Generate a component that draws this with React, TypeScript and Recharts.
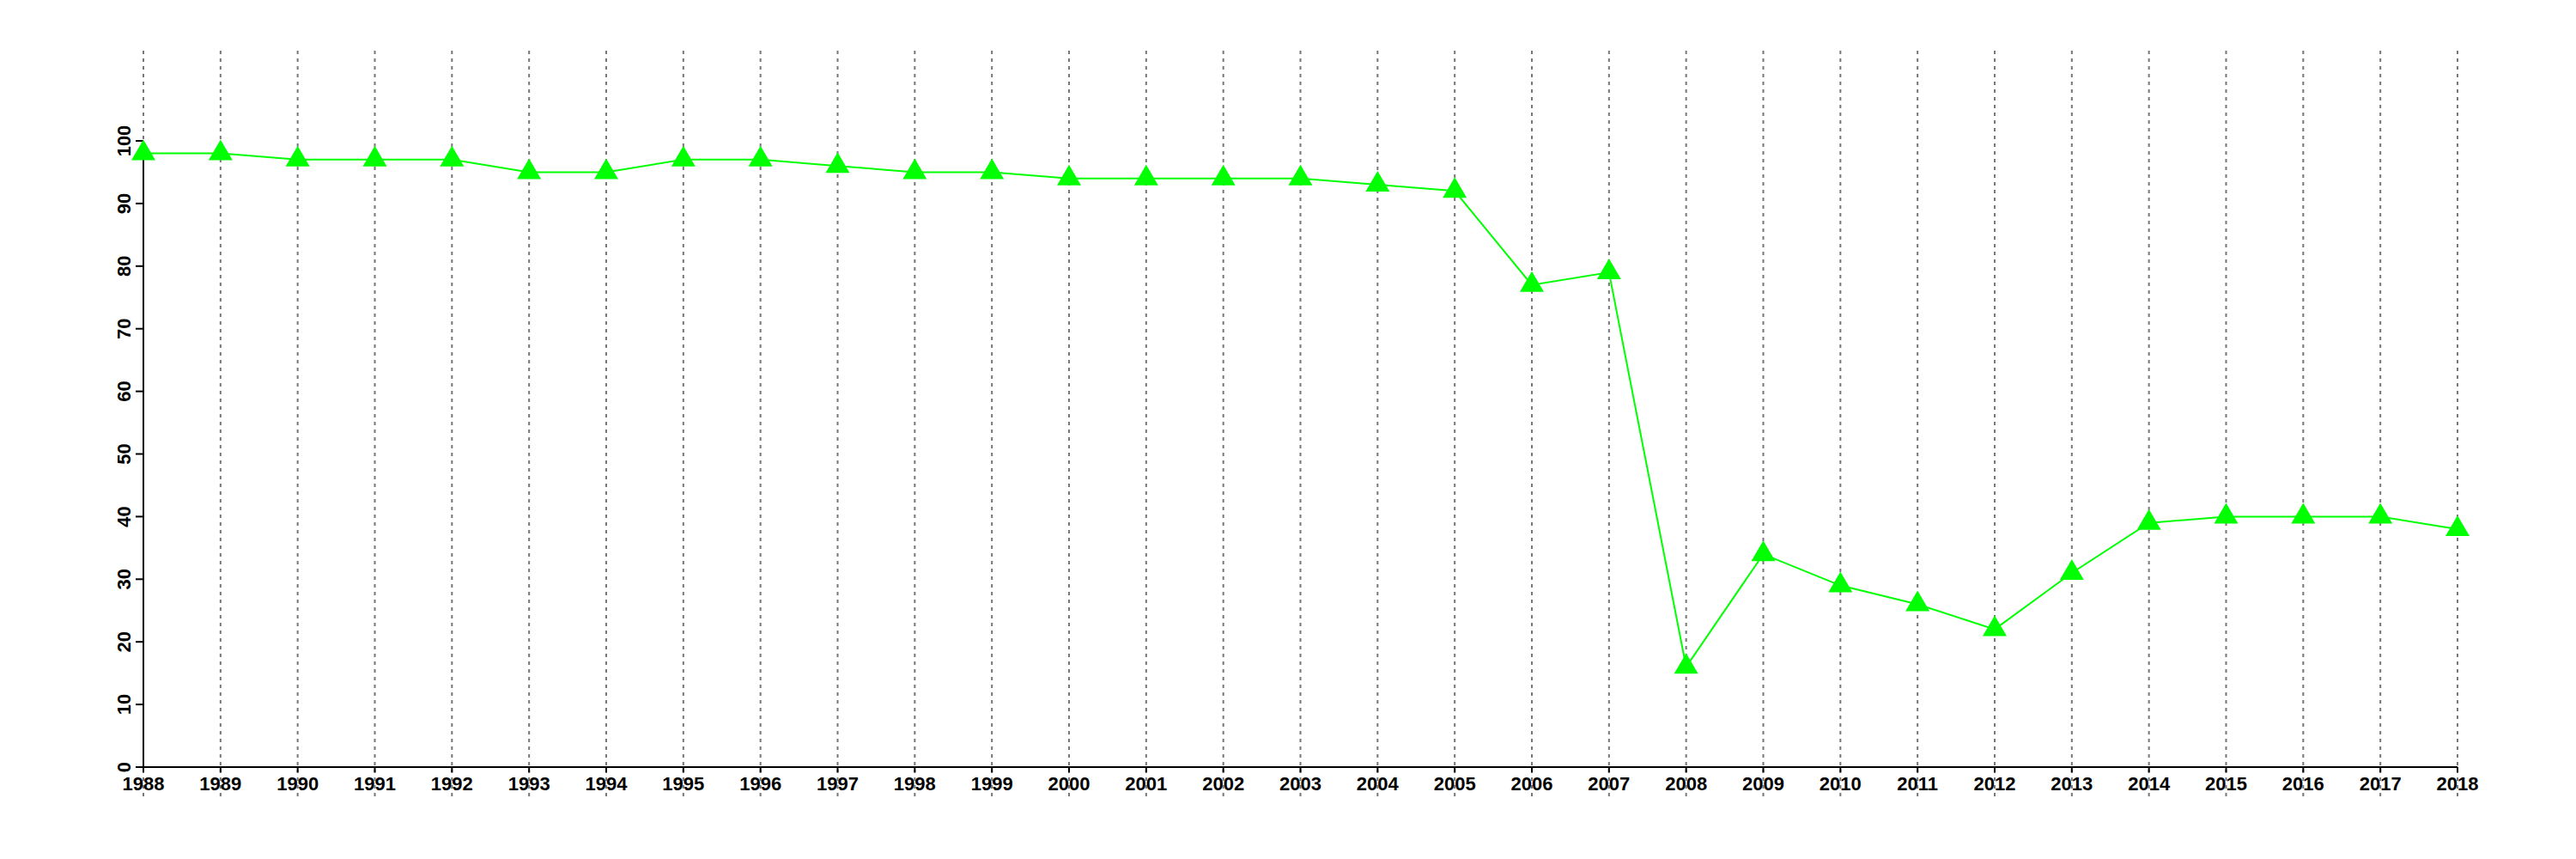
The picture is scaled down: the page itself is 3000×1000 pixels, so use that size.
import React from "react";
import { LineChart, Line, XAxis, YAxis, ReferenceLine } from "recharts";

const years = [1988, 1989, 1990, 1991, 1992, 1993, 1994, 1995, 1996, 1997, 1998, 1999, 2000, 2001, 2002, 2003, 2004, 2005, 2006, 2007, 2008, 2009, 2010, 2011, 2012, 2013, 2014, 2015, 2016, 2017, 2018];
const values = [98, 98, 97, 97, 97, 95, 95, 97, 97, 96, 95, 95, 94, 94, 94, 94, 93, 92, 77, 79, 16, 34, 29, 26, 22, 31, 39, 40, 40, 40, 38];
const yTicks = [0, 10, 20, 30, 40, 50, 60, 70, 80, 90, 100];
const gridTop = 114.4;
const gridBottom = -4.7;

const data = years.map((year, i) => ({ year, value: values[i] }));

const FONT = "'Liberation Sans', Arial, Helvetica, sans-serif";

const Triangle = (props: any) => {
  const { cx, cy } = props;
  if (cx == null || cy == null) return null;
  return (
    <polygon
      points={`${cx},${cy - 16} ${cx - 14},${cy + 8} ${cx + 14},${cy + 8}`}
      fill="#00ff00"
      stroke="none"
    />
  );
};

const XTick = (props: any) => {
  const { x, y, payload } = props;
  return (
    <text x={x} y={y + 21} textAnchor="middle" fontFamily={FONT} fontWeight="bold" fontSize={22} fill="#000">
      {payload.value}
    </text>
  );
};

const YTick = (props: any) => {
  const { x, y, payload } = props;
  return (
    <g transform={`translate(${x - 6},${y})`}>
      <text transform="rotate(-90)" x={0} y={0} textAnchor="middle" fontFamily={FONT} fontWeight="bold" fontSize={22} fill="#000">
        {payload.value}
      </text>
    </g>
  );
};

export default function App() {
  return (
    <div style={{ width: 2984, height: 984, background: "#fff" }}>
      <LineChart width={2984} height={984} data={data} margin={{ top: 156, right: 130, bottom: 39, left: 0 }}>
        <XAxis
          dataKey="year"
          type="number"
          domain={[1988, 2018]}
          ticks={years}
          interval={0}
          height={60}
          tickSize={6}
          tickMargin={0}
          axisLine={{ stroke: "#000", strokeWidth: 2 }}
          tickLine={{ stroke: "#000", strokeWidth: 2 }}
          tick={<XTick />}
        />
        <YAxis
          type="number"
          domain={[0, 100]}
          ticks={yTicks}
          interval={0}
          width={159}
          tickSize={9}
          tickMargin={0}
          axisLine={{ stroke: "#000", strokeWidth: 2 }}
          tickLine={{ stroke: "#000", strokeWidth: 2 }}
          tick={<YTick />}
        />
        <Line
          dataKey="value"
          stroke="#00ff00"
          strokeWidth={2}
          dot={<Triangle />}
          activeDot={false}
          isAnimationActive={false}
        />
        {years.map((yr) => (
          <ReferenceLine
            key={yr}
            segment={[{ x: yr, y: gridTop }, { x: yr, y: gridBottom }]}
            ifOverflow="visible"
            stroke="#777"
            strokeWidth={2}
            strokeDasharray="4 5"
          />
        ))}
      </LineChart>
    </div>
  );
}
